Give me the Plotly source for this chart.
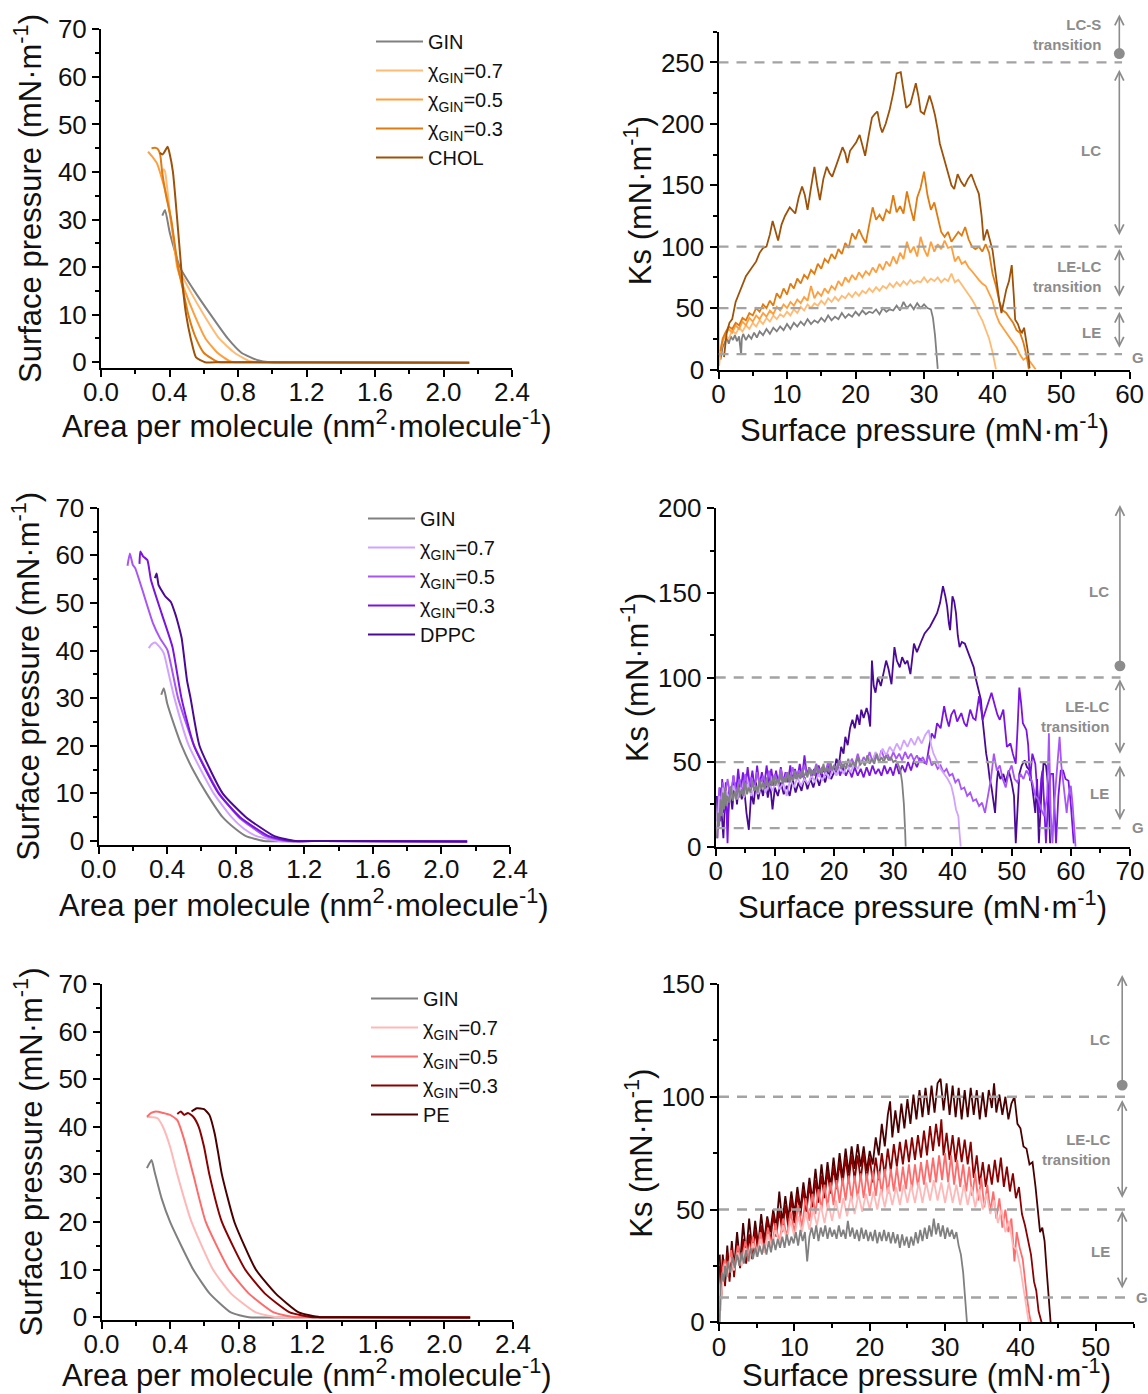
import plotly.graph_objects as go

# ---------------- Isotherms: (area per molecule nm2, surface pressure mN/m) ----------------
iso_chol_gin = [(0.358, 30.8), (0.374, 32.0), (0.40, 27.5), (0.43, 23.5), (0.46, 20.0), (0.545, 15.0), (0.64, 10.0),
                (0.74, 5.0), (0.82, 2.0), (0.91, 0.5), (0.99, 0.0), (1.3, 0.0), (2.15, -0.1)]
iso_chol_07 = [(0.355, 39.5), (0.365, 40.6), (0.374, 40.1), (0.39, 35.5), (0.405, 30.5), (0.43, 24.0), (0.45, 20.0),
               (0.52, 15.0), (0.60, 10.0), (0.69, 5.0), (0.78, 2.0), (0.87, 0.2), (1.0, 0.0), (2.15, -0.1)]
iso_chol_05 = [(0.275, 44.3), (0.30, 43.2), (0.327, 41.8), (0.358, 38.3), (0.389, 34.0), (0.42, 27.0), (0.445, 20.0),
               (0.49, 15.0), (0.545, 10.0), (0.61, 5.0), (0.68, 2.0), (0.76, 0.1), (0.9, 0.0), (2.15, -0.1)]
iso_chol_03 = [(0.295, 45.0), (0.315, 45.1), (0.33, 44.9), (0.345, 43.8), (0.357, 40.0), (0.38, 35.0), (0.41, 30.0),
               (0.45, 20.0), (0.48, 15.0), (0.51, 10.0), (0.555, 5.0), (0.60, 2.0), (0.68, 0.1), (0.8, 0.0), (2.15, -0.1)]
iso_chol = [(0.343, 44.0), (0.36, 43.7), (0.375, 44.5), (0.389, 45.3), (0.40, 44.0), (0.42, 40.0), (0.445, 30.0),
            (0.468, 20.0), (0.48, 15.0), (0.497, 10.0), (0.524, 5.0), (0.555, 1.0), (0.607, 0.0), (0.7, 0.0), (2.15, -0.1)]

iso_dppc_gin = [(0.366, 30.7), (0.381, 32.1), (0.40, 29.0), (0.44, 24.5), (0.485, 20.0), (0.55, 15.0), (0.63, 10.0),
                (0.724, 5.0), (0.80, 2.5), (0.86, 1.0), (0.964, 0.0), (1.3, 0.0), (2.15, -0.1)]
iso_dppc_07 = [(0.293, 40.5), (0.31, 41.3), (0.329, 41.7), (0.355, 40.8), (0.381, 39.4), (0.41, 35.0), (0.443, 30.0),
               (0.527, 20.0), (0.672, 10.0), (0.776, 5.0), (0.85, 2.5), (0.922, 1.0), (1.05, 0.0), (1.3, 0.0), (2.15, -0.1)]
iso_dppc_05 = [(0.169, 57.8), (0.183, 60.4), (0.20, 58.0), (0.214, 57.3), (0.256, 52.7), (0.318, 45.7), (0.36, 42.5),
               (0.402, 40.1), (0.464, 30.0), (0.558, 20.0), (0.704, 10.0), (0.818, 5.0), (0.974, 1.0), (1.09, 0.0),
               (1.3, 0.0), (2.15, -0.1)]
iso_dppc_03 = [(0.239, 58.2), (0.244, 60.8), (0.26, 59.8), (0.285, 59.0), (0.306, 54.8), (0.368, 47.8), (0.431, 40.8),
               (0.484, 30.0), (0.557, 20.0), (0.70, 10.0), (0.826, 5.0), (0.993, 1.0), (1.12, 0.0), (1.3, 0.0), (2.15, -0.1)]
iso_dppc = [(0.329, 55.2), (0.339, 56.2), (0.35, 53.8), (0.37, 52.5), (0.391, 51.3), (0.422, 50.2), (0.445, 48.0),
            (0.464, 45.7), (0.485, 42.6), (0.516, 33.8), (0.537, 30.0), (0.589, 20.0), (0.724, 10.0), (0.86, 5.0),
            (1.026, 1.0), (1.15, 0.0), (1.3, 0.0), (2.15, -0.1)]

iso_pe_gin = [(0.265, 31.3), (0.292, 33.0), (0.31, 30.5), (0.35, 25.0), (0.40, 20.0), (0.465, 15.0), (0.535, 10.0),
              (0.63, 5.0), (0.754, 1.0), (0.86, 0.0), (1.3, 0.0), (2.15, -0.1)]
iso_pe_07 = [(0.265, 42.1), (0.30, 42.0), (0.327, 41.8), (0.358, 40.0), (0.40, 35.8), (0.442, 30.0), (0.525, 20.0),
             (0.65, 10.0), (0.754, 5.0), (0.90, 1.0), (1.025, 0.0), (1.3, 0.0), (2.15, -0.1)]
iso_pe_05 = [(0.265, 42.1), (0.29, 42.9), (0.317, 43.2), (0.36, 42.9), (0.40, 42.5), (0.442, 41.4), (0.483, 37.2),
             (0.535, 30.0), (0.608, 20.0), (0.744, 10.0), (0.858, 5.0), (1.004, 1.0), (1.13, 0.0), (1.3, 0.0), (2.15, -0.1)]
iso_pe_03 = [(0.442, 42.7), (0.4625, 43.2), (0.483, 42.5), (0.504, 42.9), (0.535, 42.1), (0.567, 40.0), (0.598, 35.8),
             (0.629, 30.0), (0.702, 20.0), (0.838, 10.0), (0.952, 5.0), (1.098, 1.0), (1.233, 0.0), (1.4, 0.0), (2.15, -0.1)]
iso_pe = [(0.525, 43.2), (0.556, 43.9), (0.598, 43.7), (0.629, 42.5), (0.66, 38.6), (0.681, 34.4), (0.702, 30.0),
          (0.775, 20.0), (0.90, 10.0), (1.015, 5.0), (1.15, 1.0), (1.275, 0.0), (1.4, 0.0), (2.15, -0.1)]

# ---------------- Compressibility modulus: (surface pressure mN/m, Ks mN/m) ----------------
ks_chol_gin = [(0.3, 8), (0.6, 18), (0.9, 22), (1.2, 26), (1.5, 21), (1.8, 27), (2.1, 24), (2.4, 28), (2.7, 23), (3.0, 27),
               (3.3, 12), (3.4, 25), (3.6, 29), (4.0, 24), (4.4, 28), (4.8, 25), (5.2, 30), (5.6, 26), (6.0, 31), (6.5, 28),
               (7.0, 33), (7.5, 29), (8.0, 34), (8.5, 31), (9.0, 35), (9.5, 32), (10.0, 37), (10.5, 33), (11.0, 38), (11.5, 35),
               (12.0, 39), (12.5, 36), (13.0, 41), (13.5, 37), (14.0, 40), (14.5, 38), (15.0, 42), (15.5, 39), (16.0, 44),
               (16.5, 40), (17.0, 43), (17.5, 41), (18.0, 46), (18.5, 42), (19.0, 45), (19.5, 43), (20.0, 47), (20.5, 44),
               (21.0, 48), (21.5, 45), (22.0, 47), (22.5, 46), (23.0, 49), (23.5, 45), (24.0, 50), (24.5, 47), (25.0, 49),
               (25.5, 48), (26.0, 52), (26.5, 48), (27.0, 55), (27.5, 50), (28.0, 53), (28.5, 49), (29.0, 54), (29.5, 50),
               (30.0, 53), (30.5, 50), (31.0, 49), (31.3, 42), (31.6, 28), (31.8, 12), (32.0, 0.5)]
ks_chol_07 = [(0, 40), (0.1, 3), (0.3, 15), (0.6, 22), (1.0, 28), (1.5, 25), (2.0, 32), (2.5, 29), (3, 34), (3.5, 31), (4, 36),
              (4.5, 33), (5, 38), (5.5, 35), (6, 40), (6.5, 37), (7, 42), (7.5, 39), (8, 44), (8.5, 41), (9, 45), (9.5, 43),
              (10, 47), (10.5, 44), (11, 49), (11.5, 46), (12, 51), (12.5, 48), (13, 53), (13.5, 50), (14, 54), (14.5, 52),
              (15, 56), (15.5, 53), (16, 58), (16.5, 55), (17, 59), (17.5, 56), (18, 60), (18.5, 58), (19, 62), (19.5, 59),
              (20, 63), (20.5, 60), (21, 64), (21.5, 62), (22, 66), (22.5, 63), (23, 67), (23.5, 64), (24, 68), (24.5, 66),
              (25, 70), (25.5, 67), (26, 71), (26.5, 68), (27, 72), (27.5, 69), (28, 73), (28.5, 70), (29, 72), (29.5, 71),
              (30, 75), (30.5, 71), (31, 74), (31.5, 72), (32, 75), (32.5, 71), (33, 74), (33.5, 72), (34, 78), (34.5, 71),
              (35, 73), (35.5, 69), (36, 66), (36.5, 62), (37, 57), (37.5, 52), (38, 45), (38.5, 40), (39, 33), (39.5, 25),
              (40, 14), (40.3, 6), (40.5, 0)]
ks_chol_05 = [(0.2, 10), (0.5, 22), (1, 28), (1.5, 33), (2, 30), (2.5, 36), (3, 33), (3.5, 39), (4, 36), (4.5, 42), (5, 39),
              (5.5, 44), (6, 41), (6.5, 46), (7, 43), (7.5, 48), (8, 45), (8.5, 51), (9, 48), (9.5, 53), (10, 50), (10.5, 55),
              (11, 52), (11.5, 57), (12, 54), (12.5, 59), (13, 56), (13.5, 68), (14, 58), (14.5, 63), (15, 60), (15.5, 66),
              (16, 62), (16.5, 68), (17, 65), (17.5, 72), (18, 68), (18.5, 75), (19, 71), (19.5, 77), (20, 73), (20.5, 79),
              (21, 75), (21.5, 80), (22, 77), (22.5, 83), (23, 79), (23.5, 86), (24, 81), (24.5, 88), (25, 84), (25.5, 92),
              (26, 86), (26.5, 95), (27, 90), (27.5, 104), (28, 95), (28.5, 100), (29, 92), (29.5, 108), (30, 98), (30.5, 92),
              (31, 104), (31.5, 96), (32, 102), (32.5, 98), (33, 105), (33.5, 99), (34, 100), (34.5, 88), (35, 92), (35.5, 86),
              (36, 88), (36.5, 83), (37, 80), (37.5, 76), (38, 73), (38.5, 70), (39, 68), (39.5, 62), (40, 56), (40.5, 45),
              (41, 38), (41.5, 34), (42, 30), (42.5, 27), (43, 22), (43.5, 18), (44, 12), (44.5, 8), (45, 10), (45.5, 6),
              (46, 3), (46.3, 0)]
ks_chol_03 = [(0.3, 15), (0.6, 25), (1, 30), (1.5, 35), (2, 33), (2.5, 38), (3, 36), (3.5, 42), (4, 40), (4.5, 46), (5, 44),
              (5.5, 50), (6, 47), (6.5, 53), (7, 50), (7.5, 56), (8, 52), (8.5, 62), (9, 58), (9.5, 66), (10, 61), (10.5, 70),
              (11, 66), (11.5, 74), (12, 70), (12.5, 77), (13, 74), (13.5, 81), (14, 78), (14.5, 86), (15, 82), (15.5, 90),
              (16, 87), (16.5, 94), (17, 90), (17.5, 98), (18, 94), (18.5, 103), (19, 99), (19.5, 111), (20, 106), (20.5, 114),
              (21, 108), (21.5, 103), (22, 118), (22.5, 132), (23, 122), (23.5, 126), (24, 121), (24.5, 130), (25, 127),
              (25.5, 142), (26, 128), (26.5, 133), (27, 127), (27.5, 145), (28, 132), (28.5, 121), (29, 140), (29.5, 148),
              (30, 161), (30.5, 142), (31, 130), (31.5, 136), (32, 124), (32.5, 112), (33, 108), (33.5, 112), (34, 104),
              (34.5, 108), (35, 112), (35.5, 109), (36, 116), (36.5, 106), (37, 100), (37.5, 98), (38, 100), (38.5, 96),
              (39, 102), (39.5, 95), (40, 78), (40.5, 68), (41, 55), (41.5, 48), (42, 46), (42.5, 42), (43, 38), (43.5, 32),
              (44, 30), (44.5, 22), (45, 10), (45.3, 0)]
ks_chol = [(0.8, 10), (1.2, 30), (1.6, 38), (2, 41), (2.5, 55), (3, 62), (3.5, 68), (4, 76), (4.5, 80), (5, 84), (5.5, 88),
           (6, 95), (6.5, 99), (7, 100), (7.5, 110), (7.9, 121), (8.3, 114), (8.7, 105), (9.2, 118), (9.7, 125), (10.4, 132),
           (11.2, 127), (11.7, 140), (12.2, 149), (12.6, 142), (13, 130), (13.5, 148), (14, 165), (14.4, 150), (14.8, 138),
           (15.3, 155), (15.8, 165), (16.2, 160), (16.6, 157), (17.3, 168), (17.7, 175), (18.1, 181), (18.5, 176),
           (18.8, 168), (19.2, 178), (19.6, 181), (20.1, 185), (20.6, 191), (21, 183), (21.4, 174), (21.9, 190), (22.4, 205),
           (22.8, 208), (23.2, 210), (23.6, 198), (23.9, 193), (24.4, 200), (24.96, 211), (25.5, 225), (26, 241),
           (26.6, 242), (27, 228), (27.4, 213), (28, 216), (28.4, 225), (28.8, 233), (29.2, 222), (29.5, 210), (30, 208),
           (30.4, 215), (30.8, 223), (31.2, 216), (31.6, 207), (32, 195), (32.3, 184), (32.7, 176), (33.1, 168),
           (33.6, 158), (34, 150), (34.4, 147), (34.9, 159), (35.4, 153), (35.9, 149), (36.4, 155), (36.9, 159),
           (37.5, 150), (38, 143), (38.4, 125), (38.7, 105), (39.2, 114), (39.6, 105), (40, 97), (40.4, 80), (40.7, 65),
           (41, 55), (41.3, 46), (41.6, 55), (42, 65), (42.4, 72), (42.8, 85), (43.1, 60), (43.3, 40.5), (43.7, 37),
           (44, 32), (44.3, 30), (44.6, 34), (45, 20), (45.2, 13), (45.4, 1)]

ks_dppc_gin = [(0.2, 5), (0.4, 20), (0.6, 12), (0.8, 28), (1.0, 18), (1.2, 32), (1.4, 22), (1.6, 35), (1.8, 24), (2.0, 30),
               (2.3, 26), (2.6, 36), (2.9, 27), (3.2, 33), (3.5, 28), (3.8, 37), (4.1, 29), (4.4, 34), (4.7, 30), (5.0, 38),
               (5.3, 31), (5.6, 35), (5.9, 32), (6.2, 39), (6.5, 33), (6.8, 36), (7.1, 32), (7.4, 40), (7.7, 34), (8.0, 38),
               (8.3, 34), (8.6, 41), (8.9, 35), (9.2, 39), (9.5, 36), (9.8, 42), (10.1, 36), (10.4, 40), (10.7, 37), (11.0, 43),
               (11.3, 37), (11.6, 41), (11.9, 38), (12.2, 44), (12.5, 38), (12.8, 42), (13.1, 39), (13.4, 45), (13.7, 40),
               (14.0, 43), (14.3, 40), (14.6, 46), (14.9, 41), (15.2, 44), (15.5, 41), (15.8, 47), (16.1, 42), (16.4, 45),
               (16.7, 42), (17.0, 48), (17.3, 43), (17.6, 46), (17.9, 43), (18.2, 49), (18.5, 44), (18.8, 47), (19.1, 44),
               (19.4, 50), (19.7, 45), (20.0, 48), (20.4, 45), (20.8, 51), (21.2, 46), (21.6, 49), (22.0, 46), (22.4, 52),
               (22.8, 47), (23.2, 50), (23.6, 47), (24.0, 53), (24.4, 48), (24.8, 51), (25.2, 48), (25.6, 54), (26.0, 49),
               (26.4, 52), (26.8, 49), (27.2, 55), (27.6, 50), (28.0, 53), (28.4, 50), (28.8, 54), (29.2, 51), (29.6, 53),
               (30.0, 50), (30.4, 51), (30.8, 49), (31.2, 45), (31.5, 38), (31.8, 25), (32.0, 10), (32.1, 0)]
ks_dppc_07 = [(0.3, 10), (0.6, 30), (0.9, 20), (1.2, 35), (1.5, 25), (1.8, 33), (2.4, 27), (3.0, 36), (3.6, 28), (4.2, 35),
              (4.8, 29), (5.4, 37), (6.0, 30), (6.6, 36), (7.2, 31), (7.8, 38), (8.4, 32), (9.0, 37), (9.6, 33), (10.2, 39),
              (10.8, 34), (11.4, 38), (12.0, 30), (12.6, 40), (13.2, 35), (13.8, 41), (14.4, 36), (15.0, 40), (15.6, 37),
              (16.2, 42), (16.8, 38), (17.4, 43), (18.0, 39), (18.6, 44), (19.2, 40), (19.8, 46), (20.4, 42), (21.0, 47),
              (21.6, 43), (22.2, 48), (22.8, 44), (23.4, 49), (24.0, 46), (24.6, 51), (25.2, 48), (25.8, 53), (26.4, 50),
              (27.0, 56), (27.6, 52), (28.2, 58), (28.8, 54), (29.4, 59), (30.0, 56), (30.6, 61), (31.2, 57), (31.8, 63),
              (32.4, 59), (33.0, 64), (33.6, 60), (34.2, 65), (34.8, 61), (35.4, 66), (36.0, 69), (36.4, 60), (36.8, 55),
              (37.2, 52), (37.6, 48), (38.0, 46), (38.6, 43), (39.2, 40), (39.8, 36), (40.2, 30), (40.6, 22), (41.0, 18),
              (41.2, 8), (41.4, 0)]
ks_dppc_05 = [(0.3, 15), (0.6, 35), (0.9, 22), (1.2, 38), (1.5, 28), (2.0, 40), (2.5, 30), (3.0, 42), (3.5, 31), (4.0, 40),
              (4.5, 32), (5.0, 43), (5.5, 33), (6.0, 41), (6.5, 34), (7.0, 44), (7.5, 35), (8.0, 42), (8.5, 36), (9.0, 45),
              (9.5, 36), (10.0, 43), (10.5, 37), (11.0, 46), (11.5, 38), (12.0, 44), (12.5, 39), (13.0, 47), (13.5, 40),
              (14.0, 45), (14.5, 41), (15.0, 48), (15.5, 42), (16.0, 46), (16.5, 43), (17.0, 49), (17.5, 44), (18.0, 47),
              (18.5, 44), (19.0, 50), (19.5, 45), (20.0, 48), (20.5, 46), (21.0, 51), (21.5, 47), (22.0, 50), (22.5, 47),
              (23.0, 52), (23.5, 48), (24.0, 55), (24.5, 49), (25.0, 53), (25.5, 50), (26.0, 56), (26.5, 50), (27.0, 54),
              (27.5, 51), (28.0, 57), (28.5, 52), (29.0, 55), (29.5, 51), (30.0, 56), (30.5, 52), (31.0, 55), (31.5, 51),
              (32.0, 56), (32.5, 52), (33.0, 55), (33.5, 51), (34.0, 54), (34.5, 50), (35.0, 53), (35.5, 49), (36.0, 54),
              (36.5, 48), (37.0, 50), (37.5, 46), (38.0, 48), (38.5, 44), (39.0, 46), (39.5, 42), (40.0, 43), (40.5, 38),
              (41.0, 40), (41.5, 34), (42.0, 35), (42.5, 30), (43.0, 32), (43.5, 27), (44.0, 28), (44.5, 24), (45.0, 26),
              (45.5, 20), (46.0, 30), (46.5, 40), (47.0, 55), (47.5, 45), (48.0, 48), (48.5, 40), (49.0, 35), (49.5, 44),
              (50.0, 48), (50.5, 40), (51.0, 38), (51.5, 43), (52.0, 40), (52.5, 45), (53.0, 42), (53.5, 38), (54.0, 30),
              (54.5, 28), (55.0, 22), (55.5, 18), (56.0, 30), (56.3, 67), (56.6, 20), (56.9, 2), (57.2, 25), (57.5, 40),
              (57.8, 55), (58.1, 65), (58.4, 48), (58.7, 38), (59.0, 28), (59.3, 20), (59.6, 30), (60.0, 36), (60.3, 25),
              (60.6, 10), (60.8, 0)]
ks_dppc_03 = [(0.3, 5), (0.5, 30), (0.8, 15), (1.1, 40), (1.4, 20), (1.7, 38), (2.0, 2), (2.3, 35), (2.6, 28), (3.0, 42),
              (3.4, 30), (3.8, 46), (4.2, 32), (4.6, 44), (5.0, 34), (5.4, 47), (5.8, 35), (6.2, 45), (6.6, 34), (7.0, 48),
              (7.4, 36), (7.8, 44), (8.2, 36), (8.6, 48), (9.0, 37), (9.4, 46), (9.8, 36), (10.2, 45), (10.6, 37), (11.0, 47),
              (11.4, 38), (11.8, 44), (12.2, 38), (12.6, 48), (13.0, 39), (13.4, 46), (13.8, 40), (14.2, 49), (14.6, 41),
              (15.0, 54), (15.4, 42), (15.8, 47), (16.2, 40), (16.6, 46), (17.0, 41), (17.4, 48), (17.8, 42), (18.2, 46),
              (18.6, 42), (19.0, 48), (19.4, 43), (19.8, 47), (20.2, 43), (20.6, 48), (21.0, 42), (21.5, 47), (22.0, 42),
              (22.5, 46), (23.0, 41), (23.5, 47), (24.0, 42), (24.5, 46), (25.0, 41), (25.5, 47), (26.0, 42), (26.5, 48),
              (27.0, 43), (27.5, 46), (28.0, 42), (28.5, 48), (29.0, 43), (29.5, 47), (30.0, 42), (30.5, 49), (31.0, 43),
              (31.5, 48), (32.0, 44), (32.5, 50), (33.0, 45), (33.5, 51), (34.0, 47), (34.5, 52), (35.0, 50), (35.6, 49),
              (36.0, 58), (36.5, 67), (37.0, 64), (37.4, 73), (38.0, 70), (38.6, 83), (39.0, 76), (39.4, 71), (39.8, 78),
              (40.3, 81), (40.8, 74), (41.5, 79), (42.0, 73), (42.4, 71), (43.0, 81), (43.5, 76), (43.9, 75), (44.5, 89),
              (45.1, 75), (45.7, 81), (46.2, 86), (46.6, 91), (47.2, 83), (47.6, 78), (48.0, 75), (48.6, 81), (49.2, 59),
              (49.8, 61), (50.2, 55), (50.7, 49), (51.0, 70), (51.3, 94), (51.6, 85), (51.9, 73), (52.5, 69), (52.8, 60),
              (53.1, 39), (53.5, 55), (54.0, 49), (54.3, 35), (54.6, 20), (55.0, 40), (55.2, 45), (55.5, 25), (55.8, 2),
              (56.2, 30), (56.6, 43), (57.0, 43), (57.3, 20), (57.5, 2), (57.9, 30), (58.3, 45), (58.7, 45), (59.1, 40),
              (59.6, 39), (60.0, 25), (60.5, 2)]
ks_dppc = [(0.2, 30), (0.4, 10), (0.7, 35), (1.0, 20), (1.3, 5), (1.6, 30), (2.0, 15), (2.4, 35), (2.8, 22), (3.2, 38),
           (3.6, 25), (4.0, 40), (4.4, 28), (4.8, 35), (5.2, 20), (5.6, 10), (6.0, 32), (6.4, 25), (6.8, 38), (7.2, 28),
           (7.6, 36), (8.0, 30), (8.4, 40), (8.8, 29), (9.2, 37), (9.6, 22), (10.0, 35), (10.5, 30), (11.0, 38), (11.5, 31),
           (12.0, 36), (12.5, 30), (13.0, 40), (13.5, 32), (14.0, 38), (14.5, 33), (15.0, 41), (15.5, 34), (16.0, 40),
           (16.5, 35), (17.0, 42), (17.5, 36), (18.0, 43), (18.5, 38), (19.0, 45), (19.5, 40), (20.0, 44), (20.4, 52),
           (20.8, 48), (21.2, 59), (21.6, 55), (21.9, 65), (22.3, 60), (22.7, 70), (23.1, 75), (23.5, 70), (23.9, 78),
           (24.3, 72), (24.6, 81), (25.0, 76), (25.5, 82), (25.8, 78), (26.1, 71), (26.4, 110), (26.7, 95), (27.0, 91),
           (27.4, 100), (27.9, 95), (28.3, 102), (28.8, 110), (29.2, 105), (29.7, 96), (30.2, 118), (30.6, 110),
           (31.1, 106), (31.5, 112), (32.0, 108), (32.4, 110), (32.9, 102), (33.2, 112), (33.5, 120), (34.0, 115),
           (34.4, 118), (34.8, 122), (35.3, 126), (35.8, 128), (36.2, 130), (36.8, 134), (37.4, 138), (37.9, 144),
           (38.4, 154), (38.8, 148), (39.1, 142), (39.4, 132), (39.6, 128), (40.0, 148), (40.3, 145), (40.6, 138),
           (40.9, 125), (41.2, 118), (41.6, 121), (42.1, 120), (42.6, 115), (43.0, 112), (43.3, 108), (43.6, 106),
           (43.9, 100), (44.2, 95), (44.5, 90), (44.8, 87), (45.1, 75), (45.4, 63), (45.7, 55), (46.0, 49), (46.3, 40),
           (46.6, 35), (46.9, 28), (47.2, 20), (47.5, 38), (47.7, 45), (48.1, 40), (48.6, 43), (49.0, 38), (49.5, 45),
           (50.0, 38), (50.4, 30), (50.7, 2), (51.0, 25), (51.3, 43), (51.7, 48), (52.2, 51), (52.6, 47), (53.1, 45),
           (53.5, 35), (54.0, 20), (54.3, 40), (54.6, 2), (55.0, 30), (55.4, 50), (55.8, 48), (56.2, 35), (56.5, 2)]

ks_pe_gin = [(0.1, 0), (0.2, 15), (0.4, 22), (0.6, 18), (0.8, 25), (1.0, 20), (1.2, 27), (1.5, 22), (1.8, 29), (2.1, 24),
             (2.4, 30), (2.7, 25), (3.0, 31), (3.3, 26), (3.6, 32), (3.9, 27), (4.2, 33), (4.5, 28), (4.8, 33), (5.1, 29),
             (5.4, 34), (5.7, 30), (6.0, 35), (6.3, 30), (6.6, 36), (6.9, 31), (7.2, 37), (7.5, 32), (7.8, 37), (8.1, 33),
             (8.4, 38), (8.7, 33), (9.0, 39), (9.3, 34), (9.6, 38), (9.9, 35), (10.2, 40), (10.5, 34), (10.8, 41), (11.1, 36),
             (11.4, 40), (11.7, 27), (12.0, 38), (12.3, 42), (12.6, 37), (12.9, 43), (13.2, 36), (13.5, 42), (13.8, 38),
             (14.1, 43), (14.4, 37), (14.7, 42), (15.0, 38), (15.3, 41), (15.6, 37), (15.9, 43), (16.2, 38), (16.5, 41),
             (16.8, 37), (17.1, 45), (17.4, 38), (17.7, 42), (18.0, 37), (18.3, 41), (18.6, 36), (18.9, 42), (19.2, 37),
             (19.5, 41), (19.8, 36), (20.1, 40), (20.4, 36), (20.7, 41), (21.0, 35), (21.3, 40), (21.6, 36), (21.9, 41),
             (22.2, 36), (22.5, 40), (22.8, 35), (23.1, 40), (23.4, 35), (23.7, 39), (24.0, 33), (24.3, 39), (24.6, 34),
             (24.9, 38), (25.2, 33), (25.5, 38), (25.8, 34), (26.1, 40), (26.4, 35), (26.7, 41), (27.0, 36), (27.3, 42),
             (27.6, 37), (27.9, 43), (28.2, 38), (28.5, 46), (28.8, 39), (29.1, 44), (29.4, 38), (29.7, 43), (30.0, 37),
             (30.3, 42), (30.6, 38), (30.9, 41), (31.2, 37), (31.5, 40), (31.8, 34), (32.1, 30), (32.4, 22), (32.6, 12),
             (32.8, 4), (32.9, 0)]
ks_pe_07 = [(0.2, 5), (0.5, 20), (0.8, 26), (1.1, 20), (1.5, 29), (2.0, 23), (2.5, 31), (3.0, 25), (3.5, 33), (4.0, 27),
            (4.5, 35), (5.0, 29), (5.5, 37), (6.0, 31), (6.5, 39), (7.0, 33), (7.5, 41), (8.0, 35), (8.5, 43), (9.0, 37),
            (9.5, 45), (10.0, 38), (10.5, 47), (11.0, 40), (11.5, 49), (12.0, 41), (12.5, 50), (13.0, 43), (13.5, 52),
            (14.0, 44), (14.5, 53), (15.0, 45), (15.5, 54), (16.0, 46), (16.5, 55), (17.0, 47), (17.5, 56), (18.0, 48),
            (18.5, 57), (19.0, 49), (19.5, 57), (20.0, 50), (20.5, 58), (21.0, 50), (21.5, 59), (22.0, 51), (22.5, 60),
            (23.0, 52), (23.5, 60), (24.0, 52), (24.5, 61), (25.0, 53), (25.5, 61), (26.0, 53), (26.5, 62), (27.0, 53),
            (27.5, 62), (28.0, 54), (28.5, 63), (29.0, 54), (29.5, 62), (30.0, 53), (30.5, 62), (31.0, 53), (31.5, 61),
            (32.0, 52), (32.5, 61), (33.0, 52), (33.5, 60), (34.0, 51), (34.5, 59), (35.0, 50), (35.5, 57), (36.0, 48),
            (36.5, 54), (37.0, 44), (37.5, 50), (38.0, 40), (38.5, 45), (39.0, 34), (39.5, 32), (40.0, 24), (40.4, 15),
            (40.8, 6), (41.1, 0)]
ks_pe_05 = [(0.2, 8), (0.5, 24), (0.8, 28), (1.2, 22), (1.6, 32), (2.0, 24), (2.5, 34), (3.0, 26), (3.5, 36), (4.0, 28),
            (4.5, 38), (5.0, 30), (5.5, 40), (6.0, 31), (6.5, 42), (7.0, 33), (7.5, 44), (8.0, 35), (8.5, 46), (9.0, 38),
            (9.5, 49), (10.0, 40), (10.5, 52), (11.0, 42), (11.5, 55), (12.0, 45), (12.4, 57), (12.8, 48), (13.2, 59),
            (13.6, 50), (14.0, 61), (14.4, 51), (14.8, 62), (15.2, 52), (15.6, 63), (16.0, 53), (16.4, 64), (16.8, 54),
            (17.2, 65), (17.6, 54), (18.0, 65), (18.4, 55), (18.8, 66), (19.2, 55), (19.6, 66), (20.0, 56), (20.4, 67),
            (20.8, 56), (21.2, 67), (21.6, 57), (22.0, 68), (22.4, 57), (22.8, 68), (23.2, 58), (23.6, 69), (24.0, 58),
            (24.4, 69), (24.8, 59), (25.2, 70), (25.6, 59), (26.0, 70), (26.4, 60), (26.8, 71), (27.2, 61), (27.6, 72),
            (28.0, 62), (28.4, 73), (28.8, 62), (29.2, 74), (29.6, 63), (30.0, 75), (30.4, 62), (30.8, 74), (31.2, 61),
            (31.6, 72), (32.0, 60), (32.4, 70), (32.8, 58), (33.2, 69), (33.6, 56), (34.0, 66), (34.4, 54), (34.8, 64),
            (35.2, 51), (35.6, 61), (36.0, 49), (36.4, 58), (36.8, 46), (37.2, 55), (37.6, 42), (38.0, 50), (38.4, 40),
            (38.8, 46), (39.2, 27), (39.5, 40), (39.9, 33), (40.3, 28), (40.6, 18), (40.9, 10), (41.2, 3), (41.4, 0)]
ks_pe_03 = [(0.1, 25), (0.3, 10), (0.5, 28), (0.8, 16), (1.1, 31), (1.4, 18), (1.7, 33), (2.0, 20), (2.4, 35), (2.8, 24),
            (3.2, 37), (3.6, 26), (4.0, 39), (4.4, 28), (4.8, 41), (5.2, 31), (5.6, 43), (6.0, 33), (6.4, 46), (6.8, 35),
            (7.2, 48), (7.6, 38), (8.0, 50), (8.4, 40), (8.8, 52), (9.2, 42), (9.6, 55), (10.0, 44), (10.4, 57), (10.8, 47),
            (11.2, 59), (11.6, 49), (12.0, 61), (12.4, 51), (12.8, 63), (13.2, 53), (13.6, 65), (14.0, 55), (14.4, 67),
            (14.8, 57), (15.2, 69), (15.6, 59), (16.0, 71), (16.4, 61), (16.8, 73), (17.2, 62), (17.6, 74), (18.0, 63),
            (18.4, 74), (18.8, 63), (19.2, 75), (19.6, 63), (20.0, 73), (20.4, 62), (20.8, 73), (21.2, 63), (21.6, 75),
            (22.0, 65), (22.4, 77), (22.8, 67), (23.2, 79), (23.6, 69), (24.0, 80), (24.4, 70), (24.8, 81), (25.2, 71),
            (25.6, 82), (26.0, 72), (26.4, 83), (26.8, 73), (27.2, 85), (27.6, 74), (28.0, 87), (28.4, 76), (28.8, 88),
            (29.2, 78), (29.5, 90), (29.8, 74), (30.2, 84), (30.6, 72), (31.0, 83), (31.4, 71), (31.8, 82), (32.2, 71),
            (32.6, 81), (33.0, 70), (33.4, 80), (33.8, 64), (34.2, 74), (34.6, 61), (35.0, 71), (35.4, 60), (35.8, 70),
            (36.2, 61), (36.6, 72), (37.0, 62), (37.4, 73), (37.8, 60), (38.2, 69), (38.6, 58), (39.0, 66), (39.4, 55),
            (39.8, 60), (40.2, 48), (40.6, 43), (41.0, 36), (41.4, 30), (41.8, 18), (42.1, 14), (42.4, 5), (42.8, 0)]
ks_pe = [(0.1, 30), (0.3, 12), (0.5, 30), (0.8, 18), (1.1, 34), (1.4, 20), (1.7, 36), (2.0, 24), (2.4, 40), (2.8, 26),
         (3.2, 44), (3.6, 30), (4.0, 46), (4.4, 32), (4.8, 45), (5.2, 34), (5.6, 48), (6.0, 36), (6.4, 47), (6.8, 40),
         (7.2, 50), (7.6, 42), (8.0, 58), (8.4, 44), (8.8, 56), (9.2, 46), (9.6, 58), (10.0, 48), (10.4, 60), (10.8, 50),
         (11.2, 62), (11.6, 52), (12.0, 64), (12.4, 54), (12.8, 68), (13.2, 56), (13.6, 70), (14.0, 58), (14.4, 71),
         (14.8, 60), (15.2, 73), (15.6, 62), (16.0, 75), (16.4, 64), (16.8, 77), (17.2, 66), (17.6, 78), (18.0, 68),
         (18.4, 79), (18.8, 69), (19.2, 78), (19.6, 67), (20.0, 76), (20.4, 70), (20.8, 82), (21.2, 74), (21.6, 88),
         (22.0, 78), (22.4, 92), (22.7, 98), (23.0, 82), (23.4, 94), (23.8, 84), (24.2, 97), (24.6, 86), (25.0, 99),
         (25.4, 88), (25.8, 101), (26.2, 90), (26.6, 103), (27.0, 91), (27.4, 104), (27.8, 92), (28.2, 105), (28.6, 93),
         (29.0, 106), (29.4, 108), (29.8, 94), (30.2, 106), (30.6, 92), (31.0, 105), (31.4, 91), (31.8, 104), (32.2, 90),
         (32.6, 103), (33.0, 91), (33.4, 104), (33.8, 92), (34.2, 103), (34.6, 90), (35.0, 102), (35.4, 91), (35.8, 103),
         (36.2, 95), (36.5, 106), (36.8, 93), (37.2, 101), (37.6, 92), (38.0, 100), (38.4, 90), (38.8, 97), (39.2, 100),
         (39.6, 88), (40.0, 86), (40.4, 78), (40.8, 77), (41.2, 70), (41.6, 71), (42.0, 60), (42.3, 50), (42.6, 40),
         (42.9, 42), (43.2, 36), (43.5, 22), (43.7, 12), (43.9, 3), (44.0, 0)]

# Region limits of Ks (mN/m) for each right panel
bounds_chol = [12.5, 50, 100, 250]
bounds_dppc = [11, 50, 100]
bounds_pe = [11, 50, 100]

legend_names = ["GIN", "χ<sub>GIN</sub>=0.7", "χ<sub>GIN</sub>=0.5", "χ<sub>GIN</sub>=0.3"]
colors_chol = ["#808080", "#FFBB73", "#FF9E3D", "#E07B12", "#9E5209"]
colors_dppc = ["#808080", "#CFA3FF", "#A855F7", "#7B14E0", "#4B0A96"]
colors_pe = ["#808080", "#FFB8B8", "#FF6B6B", "#8B0000", "#4A0000"]

# ---------------- figure geometry (pixels) ----------------
W, H = 1148, 1394
FONT = "Arial, 'Liberation Sans', sans-serif"
GREY = "#8c8c8c"
DASH = "#a3a3a3"
TICK_SIZE = 26
TITLE_SIZE = 31


def xdom(a, b):
    return [a / W, b / W]


def ydom(top, bot):
    return [1 - bot / H, 1 - top / H]


def unzip(pairs):
    return [p[0] for p in pairs], [p[1] for p in pairs]


fig = go.Figure()

panels = [
    dict(n="", xpx=(101, 512), ypx=(29.3, 367.7), xr=[0, 2.4], yr=[-1.15, 70], dx=0.4, dy=10, left=True, ty=424),
    dict(n="2", xpx=(718.5, 1129.6), ypx=(31.7, 369.5), xr=[0, 60], yr=[0, 275], dx=10, dy=50, left=False, ty=428),
    dict(n="3", xpx=(98.5, 510), ypx=(507.7, 845), xr=[0, 2.4], yr=[-0.85, 70], dx=0.4, dy=10, left=True, ty=903),
    dict(n="4", xpx=(715.7, 1130), ypx=(508.3, 846.7), xr=[0, 70], yr=[0, 200], dx=10, dy=50, left=False, ty=905),
    dict(n="5", xpx=(101.5, 513), ypx=(984, 1320), xr=[0, 2.4], yr=[-0.6, 70], dx=0.4, dy=10, left=True, ty=1373),
    dict(n="6", xpx=(719, 1133.5), ypx=(984, 1322.3), xr=[0, 55], yr=[0, 150], dx=10, dy=50, left=False, ty=1373),
]

layout_axes = {}
annotations = []
for p in panels:
    n = p["n"]
    common = dict(showline=True, linecolor="black", linewidth=2, ticks="outside", ticklen=7, tickwidth=2,
                  tickcolor="black", showgrid=False, zeroline=False, mirror=False, automargin=False,
                  tickfont=dict(family=FONT, size=TICK_SIZE, color="#111111"))
    if p["left"]:
        xt = "Area per molecule (nm<sup>2</sup>·molecule<sup>-1</sup>)"
        yt = "Surface pressure (mN·m<sup>-1</sup>)"
        xfmt = ".1f"
    else:
        xt = "Surface pressure (mN·m<sup>-1</sup>)"
        yt = "Ks (mN·m<sup>-1</sup>)"
        xfmt = ""
    layout_axes["xaxis" + n] = dict(common, domain=xdom(*p["xpx"]), range=p["xr"], anchor="y" + n,
                                    dtick=p["dx"], tick0=0, tickformat=xfmt, ticklabelstandoff=-7,
                                    minor=dict(ticks="outside", ticklen=4, tickwidth=2, tickcolor="black",
                                               dtick=p["dx"] / 2, tick0=0, showgrid=False))
    layout_axes["yaxis" + n] = dict(common, domain=ydom(*p["ypx"]), range=p["yr"], anchor="x" + n,
                                    dtick=p["dy"], tick0=0,
                                    minor=dict(ticks="outside", ticklen=4, tickwidth=2, tickcolor="black",
                                               dtick=p["dy"] / 2, tick0=0, showgrid=False),
                                    title=dict(text=yt, standoff=7 if p["left"] else 0,
                                               font=dict(family=FONT, size=TITLE_SIZE, color="#111111")))
    # x-axis title, centred under the axis
    annotations.append(dict(x=0.5, y=1 - p["ty"] / H, xref="x" + n + " domain", yref="paper",
                            text=xt, showarrow=False, xanchor="center", yanchor="middle", borderpad=0,
                            font=dict(family=FONT, size=TITLE_SIZE, color="#111111")))

# ---------------- isotherm traces (left panels, with legends) ----------------
iso_sets = [
    ("", "legend", [iso_chol_gin, iso_chol_07, iso_chol_05, iso_chol_03, iso_chol], colors_chol, "CHOL"),
    ("3", "legend2", [iso_dppc_gin, iso_dppc_07, iso_dppc_05, iso_dppc_03, iso_dppc], colors_dppc, "DPPC"),
    ("5", "legend3", [iso_pe_gin, iso_pe_07, iso_pe_05, iso_pe_03, iso_pe], colors_pe, "PE"),
]
for n, leg, series, cols, lipid in iso_sets:
    names = legend_names + [lipid]
    for k, (data, col, name) in enumerate(zip(series, cols, names)):
        xs, ys = unzip(data)
        fig.add_trace(go.Scatter(x=xs, y=ys, mode="lines", name=name, legend=leg, legendgroup=leg + str(k),
                                 line=dict(color=col, width=2, shape="spline", smoothing=0.5),
                                 xaxis="x" + n, yaxis="y" + n, hoverinfo="skip"))

# ---------------- Ks traces (right panels) ----------------
ks_sets = [
    ("2", [ks_chol_gin, ks_chol_07, ks_chol_05, ks_chol_03, ks_chol], colors_chol, [0, 1, 2, 3, 4]),
    ("4", [ks_dppc_gin, ks_dppc_07, ks_dppc_05, ks_dppc_03, ks_dppc], colors_dppc, [4, 3, 2, 1, 0]),
    ("6", [ks_pe_gin, ks_pe_07, ks_pe_05, ks_pe_03, ks_pe], colors_pe, [4, 3, 2, 1, 0]),
]
for n, series, cols, order in ks_sets:
    for i in order:
        xs, ys = unzip(series[i])
        fig.add_trace(go.Scatter(x=xs, y=ys, mode="lines", showlegend=False,
                                 line=dict(color=cols[i], width=1.8),
                                 xaxis="x" + n, yaxis="y" + n, hoverinfo="skip"))

# ---------------- region guides (dashed lines, arrows, labels) ----------------
shapes = []
guides = [
    dict(n="2", bounds=bounds_chol, xend=58.9, xarrow=58.5, xtext=56.1, xmax=60, ymax=275,
         arrows=[(289, 256, True), (244, 108, False), (98, 58, False), (47, 16.4, False)],
         labels=[("LC-S<br>transition", 273), ("LC", 178), ("LE-LC<br>transition", 76), ("LE", 30.5)], gy=10),
    dict(n="4", bounds=bounds_dppc, xend=68.4, xarrow=68.3, xtext=66.8, xmax=70, ymax=200,
         arrows=[(202, 106, True), (99, 54, False), (48, 14.8, False)],
         labels=[("LC", 150.7), ("LE-LC<br>transition", 77.2), ("LE", 31.6)], gy=11.2),
    dict(n="6", bounds=bounds_pe, xend=54.6, xarrow=53.5, xtext=52.1, xmax=55, ymax=150,
         arrows=[(154, 104.5, True), (98.6, 54.5, False), (49.5, 14.3, False)],
         labels=[("LC", 125.2), ("LE-LC<br>transition", 76.4), ("LE", 31.6)], gy=10.9),
]
ppu = {"2": (369.5 - 31.7) / 275, "4": (846.7 - 508.3) / 200, "6": (1322.3 - 984) / 150}
for g in guides:
    n = g["n"]
    for b in g["bounds"]:
        shapes.append(dict(type="line", xref="x" + n, yref="y" + n, x0=0, x1=g["xend"], y0=b, y1=b,
                           line=dict(color=DASH, width=2.4, dash="10px,8px"), layer="above"))
    for top, bot, dot in g["arrows"]:
        annotations.append(dict(x=g["xarrow"] / g["xmax"], y=top / g["ymax"],
                                xref="x" + n + " domain", yref="y" + n + " domain",
                                ax=0, ay=(top - bot) * ppu[n], text="", showarrow=True,
                                arrowhead=5, arrowsize=1.1, arrowwidth=1.6, arrowcolor=GREY,
                                arrowside="end+start", startarrowhead=6 if dot else 5,
                                startarrowsize=1.7 if dot else 1.1))
    for txt, yv in g["labels"]:
        annotations.append(dict(x=g["xtext"] / g["xmax"], y=yv / g["ymax"],
                                xref="x" + n + " domain", yref="y" + n + " domain",
                                text="<b>" + txt + "</b>", showarrow=False, xanchor="right", yanchor="middle",
                                align="right", font=dict(family=FONT, size=15, color=GREY)))
    annotations.append(dict(x=1.0, y=g["gy"] / g["ymax"], xref="x" + n + " domain", yref="y" + n + " domain",
                            text="<b>G</b>", showarrow=False, xanchor="left", yanchor="middle",
                            font=dict(family=FONT, size=15, color=GREY)))

leg_common = dict(xanchor="left", yanchor="top", bgcolor="rgba(0,0,0,0)", borderwidth=0,
                  font=dict(family=FONT, size=20, color="#111111"), itemwidth=47, tracegroupgap=0,
                  itemclick=False, itemdoubleclick=False)

fig.update_layout(
    width=W, height=H, template="none",
    paper_bgcolor="white", plot_bgcolor="white",
    margin=dict(l=0, r=0, t=0, b=0),
    showlegend=True,
    legend=dict(leg_common, x=371 / W, y=1 - 22 / H),
    legend2=dict(leg_common, x=363 / W, y=1 - 499 / H),
    legend3=dict(leg_common, x=366 / W, y=1 - 979 / H),
    shapes=shapes, annotations=annotations,
    **layout_axes,
)

fig.write_html("out.html")
